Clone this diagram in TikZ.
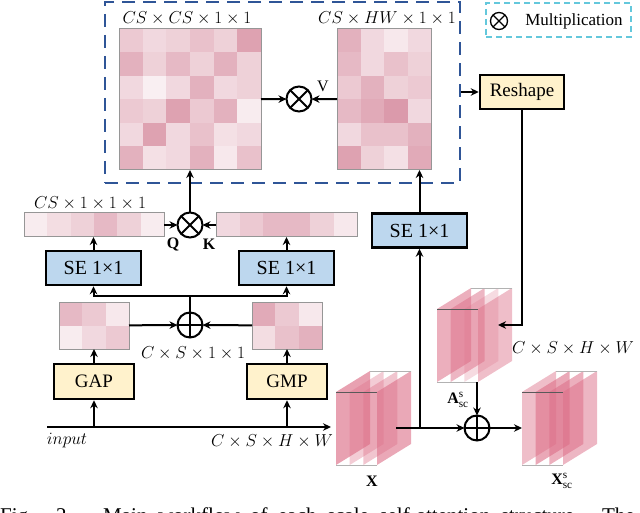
\documentclass[tikz,border=0pt]{standalone}
\usepackage{fontspec}
\setmainfont{Liberation Serif}
\usetikzlibrary{arrows.meta,calc}
\definecolor{pk}{RGB}{200,100,125}
\definecolor{seblue}{RGB}{189,215,238}
\definecolor{gapy}{RGB}{255,242,204}
\definecolor{dblue}{RGB}{47,85,151}
\definecolor{legcyan}{RGB}{100,200,220}
\definecolor{sheetc}{RGB}{220,110,135}
\definecolor{framegray}{RGB}{150,150,150}
\newcommand{\cellgrid}[5]{%
  \foreach \rw [count=\r from 0] in {#5} {
    \foreach \v [count=\c from 0] in \rw {
      \fill[pk!\v] ({#1+\c*#3},{#2+\r*#4}) rectangle ++(#3,#4);
    }
  }
}
\newcommand{\drawsheet}[3]{%
  \fill[sheetc, fill opacity=#3] (#1,#2) -- ++(34,-21) -- ++(0,73) -- ++(-34,21) -- cycle;
}
\newcommand{\cubeedges}[2]{%
  \draw[gray!60, line width=1pt] ({#1+34},{#2-21}) -- ++(41,0);
  \draw[gray!60, line width=1pt] (#1,{#2+73}) -- ++(41,0);
  \draw[black!65, line width=1pt] (#1,#2) -- ++(41,0);
}
\begin{document}
\begin{tikzpicture}[x=1pt,y=-1pt,
  ln/.style={line width=2pt},
  arr/.style={line width=2pt,-{Stealth[length=8pt,width=7.5pt]}},
  opc/.style={circle,draw,line width=2pt,minimum size=25pt,inner sep=0pt,outer sep=0pt},
  sebox/.style={draw,line width=2.5pt,fill=seblue,minimum width=95pt,minimum height=34pt,inner sep=0pt,font=\fontsize{20}{22}\selectfont},
  ybox/.style={draw,line width=2.5pt,fill=gapy,minimum width=80pt,minimum height=35pt,inner sep=0pt,font=\fontsize{19}{21}\selectfont},
  mat/.style={inner sep=0pt,outer sep=0pt},
  lab/.style={font=\fontsize{16}{18}\selectfont, inner sep=0pt},
  frame/.style={draw=framegray,line width=1pt},
  crossln/.style={line width=2pt},
]
\useasboundingbox (0,0) rectangle (640,513);

% attention block frame
\node[draw=dblue,line width=2.5pt,dash pattern=on 13pt off 8pt,minimum width=355pt,minimum height=181pt,inner sep=0pt] (attn) at (282.5,92.5) {};

% legend
\node[draw=legcyan,line width=1.5pt,dash pattern=on 6pt off 4pt,minimum width=145pt,minimum height=34pt,inner sep=0pt] (leg) at (558.5,20) {};
\node[circle,draw,line width=1.3pt,minimum size=17pt,inner sep=0pt,outer sep=0pt] (legop) at (499,21) {};
\draw[line width=1.3pt] (legop.north east) -- (legop.south west) (legop.north west) -- (legop.south east);
\node[font=\fontsize{17}{19}\selectfont,inner sep=0pt] (legtxt) at (574,21) {Multiplication};

% big matrices
\node[mat,minimum width=142pt,minimum height=141pt] (M1) at (190,99.5) {};
\cellgrid{119}{29}{23.667}{23.5}{{35,25,30,40,30,60},{50,30,45,30,50,30},{25,10,25,50,25,30},{35,30,60,35,50,12},{25,60,25,40,20,25},{50,20,25,50,15,40}}
\draw[frame] (M1.north west) rectangle (M1.south east);
\node[lab] (M1lab) at (187,18) {$CS\times CS\times 1\times 1$};

\node[mat,minimum width=94pt,minimum height=141pt] (M2) at (384,99.5) {};
\cellgrid{337}{29}{23.5}{23.5}{{50,25,15,25},{45,25,40,30},{35,50,30,35},{45,55,65,25},{25,40,40,50},{60,30,20,55}}
\draw[frame] (M2.north west) rectangle (M2.south east);
\node[lab] (M2lab) at (387,18) {$CS\times HW\times 1\times 1$};

\node[opc] (mul1) at (299,99) {};
\draw[crossln] (mul1.north east) -- (mul1.south west) (mul1.north west) -- (mul1.south east);
\draw[arr] (M1) -- (mul1);
\draw[arr] (M2) -- (mul1);
\node[lab] (vlab) at (323,86) {V};

% reshape
\node[ybox,minimum width=84pt,minimum height=34pt] (RS) at (522,92) {Reshape};
\draw[arr] (attn.east |- RS) -- (RS);

% Q and K vectors
\node[mat,minimum width=140pt,minimum height=24pt] (Q) at (94,225) {};
\cellgrid{24}{213}{23.333}{24}{{12,22,30,45,30,12}}
\draw[frame] (Q.north west) rectangle (Q.south east);
\node[lab] (Qdim) at (90,203) {$CS\times 1\times 1\times 1$};

\node[mat,minimum width=141pt,minimum height=24pt] (K) at (286.5,225) {};
\cellgrid{216}{213}{23.5}{24}{{25,35,45,45,30,15}}
\draw[frame] (K.north west) rectangle (K.south east);

\node[opc] (mul2) at (190,225) {};
\draw[crossln] (mul2.north east) -- (mul2.south west) (mul2.north west) -- (mul2.south east);
\draw[arr] (Q) -- (mul2);
\draw[arr] (K) -- (mul2);
\draw[arr] (mul2) -- (M1);
\node[lab] (qlab) at (173,244) {\textbf{Q}};
\node[lab] (klab) at (209,244) {\textbf{K}};

% SE boxes
\node[sebox] (SE1) at (93.5,268) {SE 1×1};
\node[sebox] (SE2) at (286.5,268) {SE 1×1};
\node[sebox] (SE3) at (419.5,230.5) {SE 1×1};
\draw[arr] (SE1) -- (SE1.north |- Q.south);
\draw[arr] (SE2) -- (SE2.north |- K.south);
\draw[arr] (SE3) -- (SE3.north |- M2.south);

% pooled features
\node[opc] (add1) at (190,325) {};
\draw[crossln] (add1.north) -- (add1.south) (add1.west) -- (add1.east);
\coordinate (split) at (190,296);
\draw[ln] (add1) -- (split);
\draw[arr] (split) -| (SE1.south);
\draw[arr] (split) -| (SE2.south);

\node[mat,minimum width=70pt,minimum height=47pt] (S1) at (94,325.5) {};
\cellgrid{59}{302}{23.333}{23.5}{{45,35,15},{12,25,35}}
\draw[frame] (S1.north west) rectangle (S1.south east);
\node[mat,minimum width=70pt,minimum height=47pt] (S2) at (287,325.5) {};
\cellgrid{252}{302}{23.333}{23.5}{{55,35,15},{22,40,50}}
\draw[frame] (S2.north west) rectangle (S2.south east);
\draw[arr] (S1) -- (add1);
\draw[arr] (S2) -- (add1);
\node[lab] (sdim) at (193,353) {$C\times S\times 1\times 1$};

\node[ybox] (GAP) at (94,381.5) {GAP};
\node[ybox] (GMP) at (287,381.5) {GMP};
\draw[arr] (GAP) -- (GAP.north |- S1.south);
\draw[arr] (GMP) -- (GMP.north |- S2.south);

% input line
\coordinate (in0) at (47,427);
\coordinate (in1) at (331,427);
\draw[arr] (in0) -- (in1);
\draw[arr] (GAP.south |- in0) -- (GAP.south);
\draw[arr] (GMP.south |- in0) -- (GMP.south);
\node[lab] (inlab) at (67,441) {$input$};
\node[lab] (indim) at (272,441) {$C\times S\times H\times W$};

% X cube
\node[mat,minimum width=75pt,minimum height=94pt] (X) at (373.5,418) {};
\drawsheet{336}{392}{0.65}
\drawsheet{349.67}{392}{0.35}
\drawsheet{363.33}{392}{0.4}
\drawsheet{377}{392}{0.6}
\cubeedges{336}{392}
\node[lab] (xlab) at (372,481) {$\mathbf{X}$};

% A cube
\node[mat,minimum width=75pt,minimum height=94pt] (A) at (474.5,335) {};
\drawsheet{437}{309}{0.55}
\drawsheet{450.67}{309}{0.5}
\drawsheet{464.33}{309}{0.25}
\drawsheet{478}{309}{0.45}
\cubeedges{437}{309}
\node[lab] (alab) at (458,400) {$\mathbf{A}^{\mathrm{s}}_{\mathrm{sc}}$};
\node[lab] (adim) at (573,348) {$C\times S\times H\times W$};

% Xsc cube
\node[mat,minimum width=75pt,minimum height=94pt] (Xsc) at (559.5,418) {};
\drawsheet{522}{392}{0.45}
\drawsheet{535.67}{392}{0.6}
\drawsheet{549.33}{392}{0.55}
\drawsheet{563}{392}{0.5}
\cubeedges{522}{392}
\node[lab] (xsclab) at (562,481) {$\mathbf{X}^{\mathrm{s}}_{\mathrm{sc}}$};

% residual path
\node[opc] (add2) at (477,428) {};
\draw[crossln] (add2.north) -- (add2.south) (add2.west) -- (add2.east);
\coordinate (xout) at (396,428);
\coordinate (xsplit) at (419.5,428);
\draw[arr] (xout) -- (add2);
\draw[arr] (xsplit) -- (SE3.south);
\coordinate (Ain) at (498,325);
\draw[arr] (RS.south) |- (Ain);
\coordinate (Aout) at (477,382);
\draw[arr] (Aout) -- (add2);
\draw[arr] (add2) -- (Xsc.west |- add2);

% clipped caption
\begin{scope}
\clip (0,0) rectangle (640,513);
\node[anchor=base west,inner sep=0pt,font=\fontsize{21}{24}\selectfont] (cap) at (0,522) {\makebox[652pt][s]{Fig. 2.\ \ \ Main workflow of each scale self-attention structure. The f}};
\end{scope}
\end{tikzpicture}
\end{document}
